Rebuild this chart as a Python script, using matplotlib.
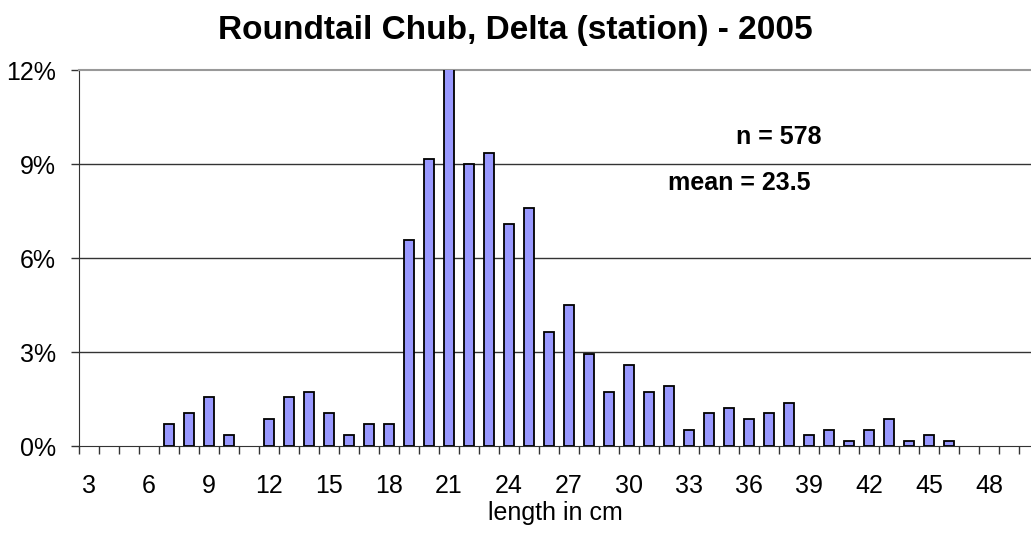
import numpy as np
import matplotlib
matplotlib.use('Agg')
import matplotlib.pyplot as plt
import matplotlib.ticker as mticker

# length classes (cm) and percent of fish in each class
lengths = list(range(3, 51))
percent = [0, 0, 0, 0, 0.69, 1.04, 1.56, 0.35, 0, 0.87, 1.56, 1.73, 1.04, 0.35,
           0.69, 0.69, 6.57, 9.17, 12.46, 9.00, 9.34, 7.09, 7.61, 3.63, 4.50,
           2.94, 1.73, 2.60, 1.73, 1.90, 0.52, 1.04, 1.21, 0.87, 1.04, 1.38,
           0.35, 0.52, 0.17, 0.52, 0.87, 0.17, 0.35, 0.17, 0, 0, 0, 0]
label_ticks = list(range(3, 49, 3))
y_ticks = [0, 3, 6, 9, 12]
title = 'Roundtail Chub, Delta (station) - 2005'
n_text = 'n = 578'
mean_text = 'mean = 23.5'

plt.rcParams['font.family'] = ['Liberation Sans', 'DejaVu Sans']

fig = plt.figure(figsize=(10.31, 5.35), dpi=100)
ax = fig.add_axes([79/1031, 1 - 446/535, 1 - 79/1031, (446 - 70)/535])

x = np.array(lengths)
h = np.array(percent)
keep = h > 0  # empty classes get no bar outline
ax.bar(x[keep], h[keep], width=0.5, color='#9999ff', edgecolor='black',
       linewidth=1.3, zorder=3)

ax.set_xlim(2.5, 50.1)
ax.set_ylim(0, 12)

# gridlines
for y in y_ticks[1:-1]:
    ax.axhline(y, color='#333333', linewidth=1.0, zorder=1)

ax.spines['right'].set_visible(False)
ax.spines['top'].set_color('#999999')
ax.spines['top'].set_linewidth(1.5)
ax.spines['left'].set_color('#333333')
ax.spines['bottom'].set_color('#333333')

ax.set_yticks(y_ticks)
ax.yaxis.set_major_formatter(mticker.FuncFormatter(lambda v, p: '%d%%' % v))
ax.tick_params(axis='y', direction='out', length=5.5, width=1, pad=11,
               labelsize=18, color='#333333')

ax.set_xticks(label_ticks)
ax.set_xticks(np.arange(2.5, 50.5, 1), minor=True)
ax.tick_params(axis='x', which='major', length=0, pad=20, labelsize=18)
ax.tick_params(axis='x', which='minor', direction='out', length=6, width=1,
               color='#333333')

ax.set_xlabel('length in cm', fontsize=18, labelpad=2)
fig.text(515/1031, 1 - 31/535, title, ha='center', va='center',
         fontsize=24, fontweight='bold')

ax.text(736/1031, 1 - 137/535, n_text, transform=fig.transFigure,
        fontsize=18, fontweight='bold', va='center')
ax.text(668/1031, 1 - 183/535, mean_text, transform=fig.transFigure,
        fontsize=18, fontweight='bold', va='center')

fig.savefig('out.png', dpi=100)
